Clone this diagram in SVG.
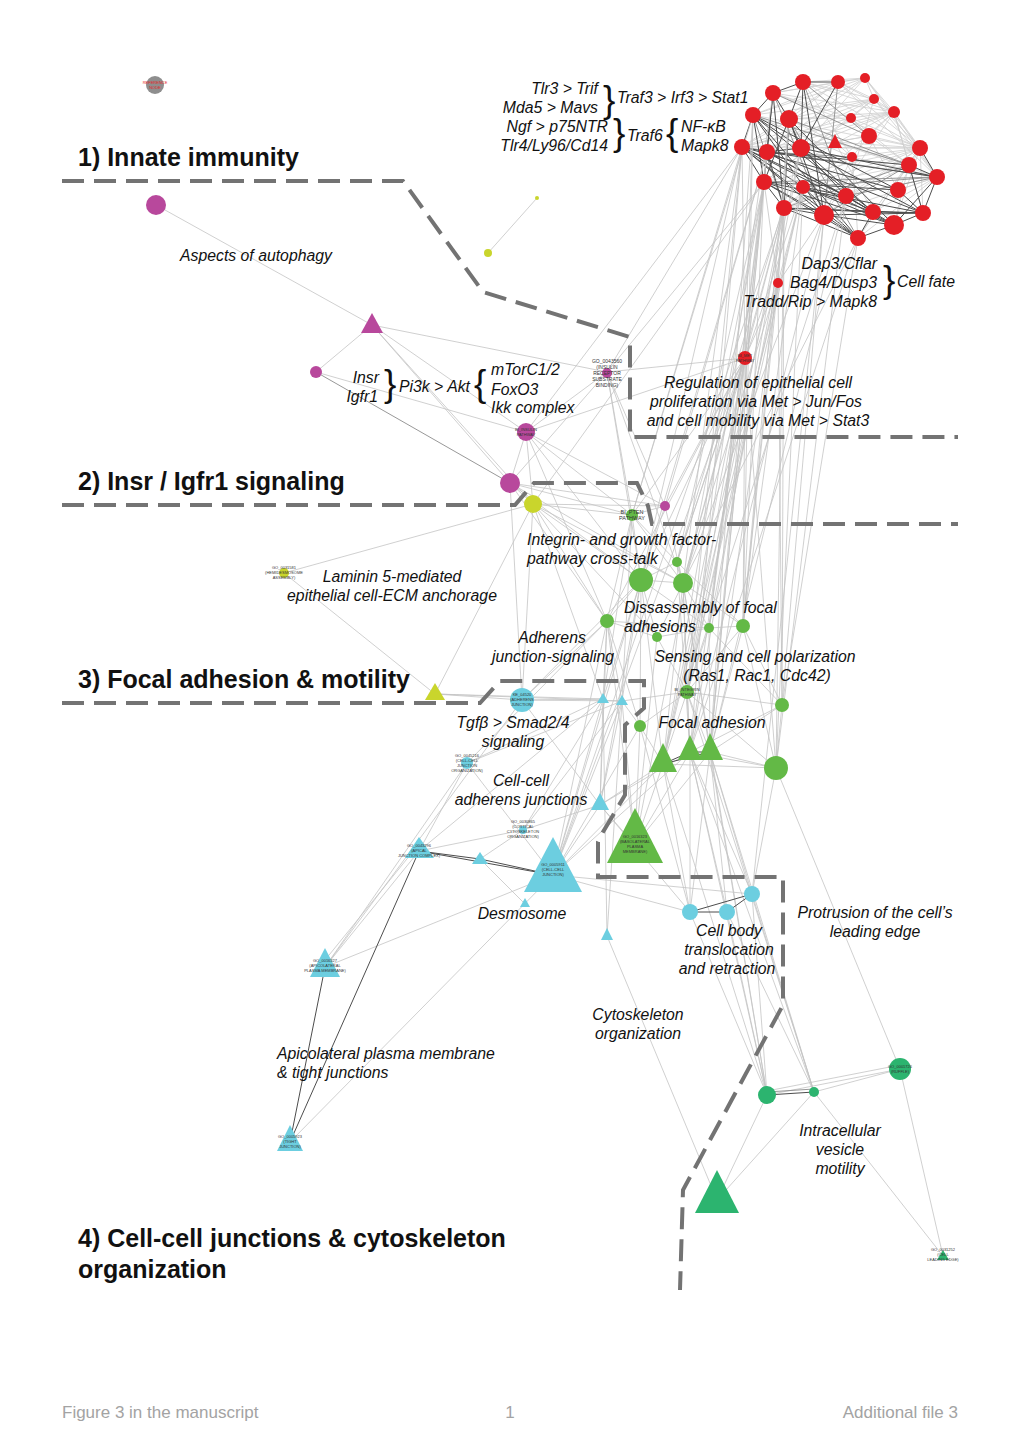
<svg xmlns="http://www.w3.org/2000/svg" width="1020" height="1442" viewBox="0 0 1020 1442">
<style>
.e{stroke:#c4c4c4;stroke-width:.8}
.f{stroke:#cfcfcf;stroke-width:.8}
.d{stroke:#4d4d4d;stroke-width:1}
.m{stroke:#8c8c8c;stroke-width:.9}
.bd{fill:none;stroke:#737373;stroke-width:4;stroke-dasharray:22 10}
.red{fill:#e41f26}
.pur{fill:#b8489c}
.yel{fill:#c9d52c}
.grn{fill:#63b946}
.cya{fill:#6ccee0}
.tea{fill:#2cb46f}
.ref{fill:#8e8e8e}
.lab{font-family:"Liberation Sans",Arial,sans-serif;font-style:italic;font-size:15.8px;fill:#111}
.ttl{font-family:"Liberation Sans",Arial,sans-serif;font-weight:bold;font-size:25px;fill:#111}
.tiny{font-family:"Liberation Sans",Arial,sans-serif;font-size:4px;fill:#333;text-anchor:middle}
.foot{font-family:"Liberation Sans",Arial,sans-serif;font-size:17px;fill:#a3a3a3}
.br{font-family:"Liberation Sans",Arial,sans-serif;font-size:37px;fill:#111}
</style>
<rect width="1020" height="1442" fill="#fff"/>
<g id="connectors">
<g class="f">
<line x1="838" y1="82" x2="865" y2="78"/><line x1="865" y1="78" x2="894" y2="112"/><line x1="838" y1="82" x2="894" y2="112"/><line x1="874" y1="99" x2="894" y2="112"/><line x1="851" y1="118" x2="894" y2="112"/><line x1="773" y1="93" x2="838" y2="82"/><line x1="789" y1="119" x2="838" y2="82"/><line x1="789" y1="119" x2="851" y2="118"/><line x1="869" y1="136" x2="920" y2="148"/><line x1="869" y1="136" x2="894" y2="112"/><line x1="835" y1="142" x2="920" y2="148"/><line x1="852" y1="157" x2="920" y2="148"/><line x1="851" y1="118" x2="920" y2="148"/><line x1="838" y1="82" x2="920" y2="148"/><line x1="865" y1="78" x2="920" y2="148"/><line x1="874" y1="99" x2="920" y2="148"/><line x1="894" y1="112" x2="920" y2="148"/><line x1="803" y1="82" x2="894" y2="112"/><line x1="869" y1="136" x2="909" y2="165"/><line x1="835" y1="142" x2="937" y2="177"/><line x1="742" y1="147" x2="894" y2="112"/><line x1="764" y1="182" x2="920" y2="148"/><line x1="784" y1="208" x2="920" y2="148"/><line x1="767" y1="152" x2="874" y2="99"/><line x1="753" y1="115" x2="865" y2="78"/><line x1="742" y1="147" x2="865" y2="78"/><line x1="773" y1="93" x2="894" y2="112"/><line x1="764" y1="182" x2="894" y2="112"/><line x1="784" y1="208" x2="937" y2="177"/><line x1="824" y1="215" x2="920" y2="148"/><line x1="803" y1="82" x2="865" y2="78"/><line x1="773" y1="93" x2="865" y2="78"/><line x1="753" y1="115" x2="874" y2="99"/><line x1="789" y1="119" x2="874" y2="99"/><line x1="801" y1="148" x2="894" y2="112"/><line x1="801" y1="148" x2="920" y2="148"/><line x1="803" y1="187" x2="920" y2="148"/><line x1="846" y1="196" x2="920" y2="148"/><line x1="824" y1="215" x2="937" y2="177"/><line x1="858" y1="238" x2="937" y2="177"/><line x1="858" y1="238" x2="920" y2="148"/><line x1="873" y1="212" x2="920" y2="148"/><line x1="894" y1="225" x2="920" y2="148"/><line x1="869" y1="136" x2="851" y2="118"/><line x1="835" y1="142" x2="869" y2="136"/><line x1="852" y1="157" x2="835" y2="142"/><line x1="852" y1="157" x2="869" y2="136"/><line x1="851" y1="118" x2="874" y2="99"/><line x1="865" y1="78" x2="874" y2="99"/><line x1="838" y1="82" x2="874" y2="99"/><line x1="789" y1="119" x2="894" y2="112"/><line x1="767" y1="152" x2="894" y2="112"/><line x1="801" y1="148" x2="869" y2="136"/><line x1="801" y1="148" x2="835" y2="142"/><line x1="789" y1="119" x2="835" y2="142"/><line x1="803" y1="187" x2="909" y2="165"/><line x1="846" y1="196" x2="909" y2="165"/><line x1="742" y1="147" x2="874" y2="99"/><line x1="764" y1="182" x2="874" y2="99"/><line x1="784" y1="208" x2="894" y2="112"/><line x1="803" y1="82" x2="920" y2="148"/><line x1="773" y1="93" x2="920" y2="148"/><line x1="753" y1="115" x2="920" y2="148"/><line x1="742" y1="147" x2="920" y2="148"/><line x1="851" y1="118" x2="909" y2="165"/><line x1="852" y1="157" x2="937" y2="177"/><line x1="835" y1="142" x2="909" y2="165"/><line x1="874" y1="99" x2="937" y2="177"/><line x1="865" y1="78" x2="937" y2="177"/><line x1="894" y1="112" x2="937" y2="177"/><line x1="838" y1="82" x2="937" y2="177"/><line x1="894" y1="112" x2="909" y2="165"/><line x1="742" y1="147" x2="851" y2="118"/><line x1="764" y1="182" x2="851" y2="118"/><line x1="767" y1="152" x2="835" y2="142"/><line x1="742" y1="147" x2="835" y2="142"/><line x1="753" y1="115" x2="852" y2="157"/><line x1="803" y1="82" x2="852" y2="157"/><line x1="824" y1="215" x2="852" y2="157"/><line x1="858" y1="238" x2="852" y2="157"/><line x1="784" y1="208" x2="852" y2="157"/><line x1="873" y1="212" x2="835" y2="142"/>
<line x1="803" y1="82" x2="874" y2="99"/><line x1="773" y1="93" x2="851" y2="118"/><line x1="753" y1="115" x2="838" y2="82"/><line x1="742" y1="147" x2="838" y2="82"/><line x1="767" y1="152" x2="865" y2="78"/><line x1="801" y1="148" x2="865" y2="78"/><line x1="824" y1="215" x2="894" y2="112"/><line x1="846" y1="196" x2="874" y2="99"/><line x1="858" y1="238" x2="909" y2="165"/><line x1="894" y1="225" x2="909" y2="165"/><line x1="873" y1="212" x2="937" y2="177"/><line x1="898" y1="190" x2="937" y2="177"/><line x1="898" y1="190" x2="920" y2="148"/><line x1="898" y1="190" x2="869" y2="136"/><line x1="923" y1="213" x2="920" y2="148"/><line x1="923" y1="213" x2="894" y2="112"/>
</g>
<g class="m">
<line x1="753" y1="115" x2="909" y2="165"/><line x1="742" y1="147" x2="937" y2="177"/><line x1="773" y1="93" x2="869" y2="136"/><line x1="789" y1="119" x2="909" y2="165"/><line x1="764" y1="182" x2="937" y2="177"/><line x1="784" y1="208" x2="909" y2="165"/><line x1="803" y1="82" x2="869" y2="136"/><line x1="767" y1="152" x2="852" y2="157"/><line x1="803" y1="187" x2="937" y2="177"/><line x1="824" y1="215" x2="909" y2="165"/><line x1="846" y1="196" x2="937" y2="177"/><line x1="773" y1="93" x2="824" y2="215"/><line x1="753" y1="115" x2="784" y2="208"/><line x1="803" y1="82" x2="846" y2="196"/><line x1="838" y1="82" x2="824" y2="215"/><line x1="789" y1="119" x2="858" y2="238"/>
</g>
<g class="d">
<line x1="742" y1="147" x2="764" y2="182"/><line x1="764" y1="182" x2="784" y2="208"/><line x1="784" y1="208" x2="858" y2="238"/><line x1="858" y1="238" x2="894" y2="225"/><line x1="894" y1="225" x2="923" y2="213"/><line x1="923" y1="213" x2="937" y2="177"/><line x1="753" y1="115" x2="742" y2="147"/><line x1="773" y1="93" x2="753" y2="115"/><line x1="773" y1="93" x2="803" y2="82"/><line x1="742" y1="147" x2="767" y2="152"/><line x1="767" y1="152" x2="801" y2="148"/><line x1="742" y1="147" x2="824" y2="215"/><line x1="753" y1="115" x2="824" y2="215"/><line x1="764" y1="182" x2="824" y2="215"/><line x1="784" y1="208" x2="873" y2="212"/><line x1="764" y1="182" x2="894" y2="225"/><line x1="767" y1="152" x2="923" y2="213"/><line x1="801" y1="148" x2="873" y2="212"/><line x1="773" y1="93" x2="784" y2="208"/><line x1="753" y1="115" x2="858" y2="238"/><line x1="742" y1="147" x2="894" y2="225"/><line x1="789" y1="119" x2="824" y2="215"/><line x1="801" y1="148" x2="937" y2="177"/><line x1="767" y1="152" x2="909" y2="165"/><line x1="764" y1="182" x2="858" y2="238"/><line x1="784" y1="208" x2="923" y2="213"/><line x1="773" y1="93" x2="764" y2="182"/><line x1="789" y1="119" x2="764" y2="182"/><line x1="753" y1="115" x2="801" y2="148"/><line x1="742" y1="147" x2="846" y2="196"/><line x1="767" y1="152" x2="846" y2="196"/><line x1="824" y1="215" x2="894" y2="225"/><line x1="824" y1="215" x2="923" y2="213"/><line x1="846" y1="196" x2="894" y2="225"/><line x1="873" y1="212" x2="923" y2="213"/><line x1="803" y1="187" x2="873" y2="212"/><line x1="803" y1="187" x2="858" y2="238"/><line x1="801" y1="148" x2="846" y2="196"/><line x1="767" y1="152" x2="873" y2="212"/><line x1="789" y1="119" x2="784" y2="208"/><line x1="773" y1="93" x2="767" y2="152"/><line x1="742" y1="147" x2="898" y2="190"/><line x1="753" y1="115" x2="898" y2="190"/><line x1="803" y1="82" x2="789" y2="119"/><line x1="803" y1="82" x2="801" y2="148"/><line x1="773" y1="93" x2="789" y2="119"/><line x1="742" y1="147" x2="803" y2="187"/><line x1="784" y1="208" x2="824" y2="215"/><line x1="824" y1="215" x2="858" y2="238"/><line x1="873" y1="212" x2="858" y2="238"/><line x1="846" y1="196" x2="873" y2="212"/><line x1="898" y1="190" x2="923" y2="213"/><line x1="909" y1="165" x2="923" y2="213"/><line x1="937" y1="177" x2="894" y2="225"/><line x1="909" y1="165" x2="937" y2="177"/><line x1="920" y1="148" x2="937" y2="177"/><line x1="789" y1="119" x2="801" y2="148"/><line x1="767" y1="152" x2="784" y2="208"/><line x1="753" y1="115" x2="764" y2="182"/><line x1="803" y1="82" x2="824" y2="215"/><line x1="789" y1="119" x2="894" y2="225"/><line x1="764" y1="182" x2="923" y2="213"/><line x1="742" y1="147" x2="858" y2="238"/><line x1="753" y1="115" x2="873" y2="212"/><line x1="801" y1="148" x2="923" y2="213"/><line x1="803" y1="187" x2="894" y2="225"/><line x1="767" y1="152" x2="937" y2="177"/><line x1="764" y1="182" x2="898" y2="190"/><line x1="803" y1="187" x2="846" y2="196"/><line x1="803" y1="82" x2="838" y2="82"/><line x1="838" y1="82" x2="801" y2="148"/>
</g>
<g class="e">
<line x1="742" y1="147" x2="745" y2="358"/><line x1="742" y1="147" x2="683" y2="583"/><line x1="742" y1="147" x2="687" y2="692"/><line x1="742" y1="147" x2="690" y2="752"/><line x1="742" y1="147" x2="632" y2="515"/><line x1="742" y1="147" x2="526" y2="432"/><line x1="742" y1="147" x2="607" y2="372"/><line x1="742" y1="147" x2="641" y2="580"/><line x1="764" y1="182" x2="778" y2="283"/><line x1="764" y1="182" x2="745" y2="358"/><line x1="764" y1="182" x2="677" y2="562"/><line x1="764" y1="182" x2="709" y2="628"/><line x1="764" y1="182" x2="710" y2="752"/><line x1="764" y1="182" x2="663" y2="764"/><line x1="764" y1="182" x2="743" y2="626"/><line x1="764" y1="182" x2="607" y2="372"/><line x1="764" y1="182" x2="635" y2="845"/><line x1="764" y1="182" x2="533" y2="504"/><line x1="784" y1="208" x2="778" y2="283"/><line x1="784" y1="208" x2="745" y2="358"/><line x1="784" y1="208" x2="683" y2="583"/><line x1="784" y1="208" x2="687" y2="692"/><line x1="784" y1="208" x2="743" y2="626"/><line x1="784" y1="208" x2="782" y2="705"/><line x1="784" y1="208" x2="690" y2="752"/><line x1="784" y1="208" x2="776" y2="768"/><line x1="784" y1="208" x2="553" y2="875"/><line x1="767" y1="152" x2="745" y2="358"/><line x1="767" y1="152" x2="709" y2="628"/><line x1="767" y1="152" x2="710" y2="752"/><line x1="767" y1="152" x2="641" y2="580"/><line x1="767" y1="152" x2="665" y2="506"/><line x1="803" y1="187" x2="778" y2="283"/><line x1="803" y1="187" x2="677" y2="562"/><line x1="803" y1="187" x2="663" y2="764"/><line x1="803" y1="187" x2="743" y2="626"/><line x1="803" y1="187" x2="687" y2="692"/><line x1="803" y1="187" x2="776" y2="768"/><line x1="824" y1="215" x2="778" y2="283"/><line x1="824" y1="215" x2="683" y2="583"/><line x1="824" y1="215" x2="782" y2="705"/><line x1="824" y1="215" x2="690" y2="752"/><line x1="824" y1="215" x2="752" y2="894"/><line x1="753" y1="115" x2="745" y2="358"/><line x1="753" y1="115" x2="632" y2="515"/><line x1="753" y1="115" x2="710" y2="752"/><line x1="753" y1="115" x2="743" y2="626"/><line x1="801" y1="148" x2="677" y2="562"/><line x1="801" y1="148" x2="709" y2="628"/><line x1="801" y1="148" x2="663" y2="764"/><line x1="846" y1="196" x2="687" y2="692"/><line x1="846" y1="196" x2="776" y2="768"/><line x1="846" y1="196" x2="710" y2="752"/><line x1="858" y1="238" x2="683" y2="583"/><line x1="858" y1="238" x2="690" y2="752"/><line x1="858" y1="238" x2="782" y2="705"/><line x1="789" y1="119" x2="778" y2="283"/><line x1="789" y1="119" x2="743" y2="626"/><line x1="773" y1="93" x2="687" y2="692"/>
<line x1="778" y1="283" x2="745" y2="358"/><line x1="778" y1="283" x2="683" y2="583"/><line x1="778" y1="283" x2="687" y2="692"/><line x1="778" y1="283" x2="710" y2="752"/><line x1="778" y1="283" x2="743" y2="626"/><line x1="778" y1="283" x2="782" y2="705"/>
<line x1="745" y1="358" x2="632" y2="515"/><line x1="745" y1="358" x2="677" y2="562"/><line x1="745" y1="358" x2="641" y2="580"/><line x1="745" y1="358" x2="683" y2="583"/><line x1="745" y1="358" x2="709" y2="628"/><line x1="745" y1="358" x2="743" y2="626"/><line x1="745" y1="358" x2="687" y2="692"/><line x1="745" y1="358" x2="663" y2="764"/><line x1="745" y1="358" x2="690" y2="752"/><line x1="745" y1="358" x2="710" y2="752"/><line x1="745" y1="358" x2="607" y2="372"/><line x1="745" y1="358" x2="526" y2="432"/><line x1="745" y1="358" x2="665" y2="506"/><line x1="745" y1="358" x2="553" y2="875"/><line x1="745" y1="358" x2="776" y2="768"/><line x1="745" y1="358" x2="607" y2="621"/>
<line x1="156" y1="205" x2="372" y2="325"/><line x1="372" y1="325" x2="607" y2="372"/><line x1="372" y1="325" x2="526" y2="432"/><line x1="372" y1="325" x2="510" y2="483"/><line x1="372" y1="325" x2="533" y2="504"/><line x1="372" y1="325" x2="316" y2="372"/><line x1="316" y1="372" x2="526" y2="432"/><line x1="488" y1="253" x2="537" y2="198"/>
<line x1="607" y1="372" x2="632" y2="515"/><line x1="607" y1="372" x2="641" y2="580"/><line x1="607" y1="372" x2="665" y2="506"/><line x1="607" y1="372" x2="526" y2="432"/><line x1="607" y1="372" x2="510" y2="483"/><line x1="607" y1="372" x2="683" y2="583"/><line x1="526" y1="432" x2="510" y2="483"/><line x1="526" y1="432" x2="533" y2="504"/><line x1="526" y1="432" x2="632" y2="515"/><line x1="526" y1="432" x2="641" y2="580"/><line x1="526" y1="432" x2="665" y2="506"/><line x1="526" y1="432" x2="607" y2="621"/><line x1="510" y1="483" x2="533" y2="504"/><line x1="510" y1="483" x2="632" y2="515"/><line x1="510" y1="483" x2="665" y2="506"/><line x1="510" y1="483" x2="641" y2="580"/><line x1="510" y1="483" x2="607" y2="621"/><line x1="510" y1="483" x2="522" y2="700"/><line x1="510" y1="483" x2="683" y2="583"/><line x1="533" y1="504" x2="632" y2="515"/><line x1="533" y1="504" x2="665" y2="506"/><line x1="533" y1="504" x2="641" y2="580"/><line x1="533" y1="504" x2="607" y2="621"/><line x1="533" y1="504" x2="284" y2="573"/><line x1="533" y1="504" x2="435" y2="694"/><line x1="533" y1="504" x2="522" y2="700"/><line x1="533" y1="504" x2="603" y2="699"/><line x1="533" y1="504" x2="683" y2="583"/><line x1="533" y1="504" x2="657" y2="637"/><line x1="284" y1="573" x2="435" y2="694"/><line x1="435" y1="694" x2="603" y2="699"/><line x1="435" y1="694" x2="622" y2="701"/><line x1="435" y1="694" x2="522" y2="700"/>
<line x1="632" y1="515" x2="677" y2="562"/><line x1="632" y1="515" x2="641" y2="580"/><line x1="632" y1="515" x2="683" y2="583"/><line x1="632" y1="515" x2="665" y2="506"/><line x1="632" y1="515" x2="607" y2="621"/><line x1="632" y1="515" x2="603" y2="699"/><line x1="632" y1="515" x2="622" y2="701"/><line x1="677" y1="562" x2="641" y2="580"/><line x1="677" y1="562" x2="683" y2="583"/><line x1="677" y1="562" x2="743" y2="626"/><line x1="677" y1="562" x2="690" y2="752"/><line x1="641" y1="580" x2="683" y2="583"/><line x1="641" y1="580" x2="607" y2="621"/><line x1="641" y1="580" x2="657" y2="637"/><line x1="641" y1="580" x2="709" y2="628"/><line x1="641" y1="580" x2="603" y2="699"/><line x1="641" y1="580" x2="622" y2="701"/><line x1="641" y1="580" x2="663" y2="764"/><line x1="641" y1="580" x2="640" y2="726"/><line x1="683" y1="583" x2="709" y2="628"/><line x1="683" y1="583" x2="743" y2="626"/><line x1="683" y1="583" x2="687" y2="692"/><line x1="683" y1="583" x2="690" y2="752"/><line x1="683" y1="583" x2="710" y2="752"/><line x1="683" y1="583" x2="663" y2="764"/><line x1="683" y1="583" x2="657" y2="637"/><line x1="607" y1="621" x2="657" y2="637"/><line x1="607" y1="621" x2="709" y2="628"/><line x1="607" y1="621" x2="603" y2="699"/><line x1="607" y1="621" x2="622" y2="701"/><line x1="607" y1="621" x2="635" y2="845"/><line x1="607" y1="621" x2="640" y2="726"/><line x1="657" y1="637" x2="709" y2="628"/><line x1="657" y1="637" x2="635" y2="845"/><line x1="657" y1="637" x2="687" y2="692"/><line x1="709" y1="628" x2="743" y2="626"/><line x1="709" y1="628" x2="687" y2="692"/><line x1="709" y1="628" x2="710" y2="752"/><line x1="709" y1="628" x2="782" y2="705"/><line x1="743" y1="626" x2="687" y2="692"/><line x1="743" y1="626" x2="782" y2="705"/><line x1="743" y1="626" x2="710" y2="752"/><line x1="743" y1="626" x2="776" y2="768"/><line x1="687" y1="692" x2="663" y2="764"/><line x1="687" y1="692" x2="690" y2="752"/><line x1="687" y1="692" x2="710" y2="752"/><line x1="687" y1="692" x2="782" y2="705"/><line x1="687" y1="692" x2="640" y2="726"/><line x1="687" y1="692" x2="776" y2="768"/><line x1="687" y1="692" x2="622" y2="701"/><line x1="782" y1="705" x2="710" y2="752"/><line x1="782" y1="705" x2="776" y2="768"/><line x1="782" y1="705" x2="690" y2="752"/><line x1="663" y1="764" x2="640" y2="726"/><line x1="663" y1="764" x2="635" y2="845"/><line x1="690" y1="752" x2="635" y2="845"/><line x1="710" y1="752" x2="635" y2="845"/><line x1="690" y1="752" x2="776" y2="768"/><line x1="710" y1="752" x2="776" y2="768"/><line x1="663" y1="764" x2="776" y2="768"/><line x1="640" y1="726" x2="622" y2="701"/><line x1="640" y1="726" x2="635" y2="845"/><line x1="635" y1="845" x2="600" y2="805"/><line x1="635" y1="845" x2="622" y2="701"/><line x1="665" y1="506" x2="683" y2="583"/><line x1="665" y1="506" x2="641" y2="580"/>
<line x1="522" y1="700" x2="603" y2="699"/><line x1="522" y1="700" x2="622" y2="701"/><line x1="522" y1="700" x2="641" y2="580"/><line x1="522" y1="700" x2="607" y2="621"/><line x1="467" y1="763" x2="603" y2="699"/><line x1="467" y1="763" x2="622" y2="701"/><line x1="467" y1="763" x2="607" y2="621"/><line x1="467" y1="763" x2="553" y2="875"/><line x1="467" y1="763" x2="419" y2="851"/><line x1="419" y1="851" x2="325" y2="967"/><line x1="415" y1="849" x2="321" y2="965"/><line x1="290" y1="1142" x2="553" y2="875"/><line x1="325" y1="967" x2="553" y2="875"/><line x1="419" y1="851" x2="523" y2="830"/><line x1="419" y1="851" x2="603" y2="699"/><line x1="325" y1="967" x2="467" y2="763"/><line x1="325" y1="967" x2="522" y2="700"/><line x1="480" y1="859" x2="523" y2="830"/><line x1="480" y1="859" x2="525" y2="904"/><line x1="553" y1="875" x2="600" y2="805"/><line x1="553" y1="875" x2="603" y2="699"/><line x1="553" y1="875" x2="622" y2="701"/><line x1="553" y1="875" x2="607" y2="621"/><line x1="553" y1="875" x2="641" y2="580"/><line x1="553" y1="875" x2="663" y2="764"/><line x1="553" y1="875" x2="690" y2="752"/><line x1="553" y1="875" x2="690" y2="912"/><line x1="553" y1="875" x2="752" y2="894"/><line x1="553" y1="875" x2="640" y2="726"/><line x1="600" y1="805" x2="603" y2="699"/><line x1="600" y1="805" x2="622" y2="701"/><line x1="600" y1="805" x2="663" y2="764"/><line x1="600" y1="805" x2="690" y2="752"/><line x1="600" y1="805" x2="641" y2="580"/><line x1="600" y1="805" x2="607" y2="621"/><line x1="600" y1="805" x2="522" y2="700"/><line x1="600" y1="805" x2="523" y2="830"/><line x1="607" y1="936" x2="603" y2="699"/><line x1="607" y1="936" x2="622" y2="701"/><line x1="607" y1="936" x2="717" y2="1200"/><line x1="690" y1="912" x2="663" y2="764"/><line x1="690" y1="912" x2="690" y2="752"/><line x1="690" y1="912" x2="710" y2="752"/><line x1="690" y1="912" x2="640" y2="726"/><line x1="727" y1="912" x2="690" y2="752"/><line x1="727" y1="912" x2="710" y2="752"/><line x1="752" y1="894" x2="710" y2="752"/><line x1="752" y1="894" x2="776" y2="768"/><line x1="752" y1="894" x2="690" y2="752"/><line x1="690" y1="912" x2="600" y2="805"/><line x1="690" y1="912" x2="767" y2="1095"/><line x1="727" y1="912" x2="767" y2="1095"/><line x1="752" y1="894" x2="814" y2="1092"/><line x1="727" y1="912" x2="814" y2="1092"/><line x1="752" y1="894" x2="767" y2="1095"/><line x1="523" y1="830" x2="603" y2="699"/><line x1="523" y1="830" x2="622" y2="701"/>
<line x1="767" y1="1095" x2="900" y2="1069"/><line x1="767" y1="1091" x2="900" y2="1065"/><line x1="814" y1="1092" x2="900" y2="1069"/><line x1="900" y1="1069" x2="943" y2="1256"/><line x1="814" y1="1092" x2="943" y2="1256"/><line x1="900" y1="1069" x2="776" y2="768"/><line x1="717" y1="1200" x2="767" y2="1095"/><line x1="717" y1="1200" x2="814" y2="1092"/><line x1="767" y1="1095" x2="690" y2="752"/><line x1="767" y1="1095" x2="710" y2="752"/><line x1="767" y1="1095" x2="663" y2="764"/><line x1="814" y1="1092" x2="710" y2="752"/><line x1="814" y1="1092" x2="690" y2="752"/><line x1="814" y1="1092" x2="687" y2="692"/><line x1="767" y1="1095" x2="683" y2="583"/>
</g>
<g class="m">
<line x1="316" y1="372" x2="510" y2="483"/><line x1="767" y1="1092" x2="814" y2="1089"/>
</g>
<g class="d">
<line x1="663" y1="764" x2="690" y2="752"/><line x1="663" y1="764" x2="710" y2="752"/><line x1="690" y1="752" x2="710" y2="752"/><line x1="419" y1="851" x2="290" y2="1142"/><line x1="325" y1="967" x2="290" y2="1142"/><line x1="419" y1="851" x2="553" y2="875"/><line x1="419" y1="851" x2="480" y2="859"/><line x1="480" y1="859" x2="553" y2="875"/><line x1="690" y1="912" x2="727" y2="912"/><line x1="690" y1="912" x2="752" y2="894"/><line x1="727" y1="912" x2="752" y2="894"/><line x1="767" y1="1095" x2="814" y2="1092"/>
</g>
</g>
<g id="regions">
<path class="bd" d="M62,181 L403,181 L483,292 L630,337 L630,437 L958,437"/>
<path class="bd" d="M62,505 L515,505 L534,483 L637,483 L648,506 L652,524 L958,524"/>
<path class="bd" d="M62,703 L480,703 L500,681 L644,681 L644,708 L625,725 L625,795 L603,832 L598,842 L598,877 L783,877 L783,1005 L683,1190 L680,1290"/>
</g>
<g id="nodes">
<g id="n_reference"><circle class="ref" cx="155" cy="85" r="9"/><text class="tiny" x="155" y="84" style="fill:#e41f26">REFERENCE</text><text class="tiny" x="155" y="89" style="fill:#e41f26">NODE</text></g>
<g id="red_cluster" class="red">
<circle cx="803" cy="82" r="8"/><circle cx="838" cy="82" r="7"/><circle cx="865" cy="78" r="5"/><circle cx="874" cy="99" r="5"/><circle cx="773" cy="93" r="8"/><circle cx="753" cy="115" r="8"/><circle cx="789" cy="119" r="9"/><circle cx="894" cy="112" r="6"/><circle cx="851" cy="118" r="5"/><circle cx="869" cy="136" r="8"/><polygon points="835,134 842,148 828,148"/><circle cx="742" cy="147" r="8"/><circle cx="767" cy="152" r="8"/><circle cx="801" cy="148" r="9"/><circle cx="852" cy="157" r="5"/><circle cx="920" cy="148" r="8"/><circle cx="909" cy="165" r="8"/><circle cx="937" cy="177" r="8"/><circle cx="764" cy="182" r="8"/><circle cx="803" cy="187" r="7"/><circle cx="846" cy="196" r="8"/><circle cx="898" cy="190" r="8"/><circle cx="784" cy="208" r="8"/><circle cx="824" cy="215" r="10"/><circle cx="873" cy="212" r="8"/><circle cx="923" cy="213" r="8"/><circle cx="894" cy="225" r="10"/><circle cx="858" cy="238" r="8"/>
</g>
<g id="n_bag4"><circle class="red" cx="778" cy="283" r="5"/></g>
<g id="n_met"><circle class="red" cx="745" cy="358" r="7"/><text class="tiny" x="745" y="357">BI_MET</text><text class="tiny" x="745" y="362">PATHWAY</text></g>
<g id="n_p1"><circle class="pur" cx="156" cy="205" r="10"/></g>
<g id="n_p2"><polygon class="pur" points="372,313 383,333 361,333"/></g>
<g id="n_p3"><circle class="pur" cx="316" cy="372" r="6"/></g>
<g id="n_irs"><circle class="pur" cx="607" cy="373" r="5"/><text class="tiny" x="607" y="363" style="font-size:5px">GO_0043560</text><text class="tiny" x="607" y="369" style="font-size:5px">(INSULIN</text><text class="tiny" x="607" y="375" style="font-size:5px">RECEPTOR</text><text class="tiny" x="607" y="381" style="font-size:5px">SUBSTRATE</text><text class="tiny" x="607" y="387" style="font-size:5px">BINDING)</text></g>
<g id="n_insulin"><circle class="pur" cx="526" cy="432" r="9"/><text class="tiny" x="526" y="431">BI_INSULIN</text><text class="tiny" x="526" y="436">PATHWAY</text></g>
<g id="n_p6"><circle class="pur" cx="510" cy="483" r="10"/></g>
<g id="n_p7"><circle class="pur" cx="665" cy="506" r="5"/></g>
<g id="n_y1"><circle class="yel" cx="537" cy="198" r="2"/></g>
<g id="n_y2"><circle class="yel" cx="488" cy="253" r="4"/></g>
<g id="n_y3"><circle class="yel" cx="533" cy="504" r="9"/></g>
<g id="n_hemi"><circle class="yel" cx="284" cy="573" r="5"/><text class="tiny" x="284" y="569">GO_0031581</text><text class="tiny" x="284" y="574">(HEMIDESMOSOME</text><text class="tiny" x="284" y="579">ASSEMBLY)</text></g>
<g id="n_y5"><polygon class="yel" points="435,683 445,700 425,700"/></g>
<g id="n_pten"><circle class="grn" cx="632" cy="515" r="6"/><text class="tiny" x="632" y="514" style="font-size:5.5px">BI_PTEN</text><text class="tiny" x="632" y="520" style="font-size:5.5px">PATHWAY</text></g>
<g id="n_g2"><circle class="grn" cx="677" cy="562" r="5"/></g>
<g id="n_g3"><circle class="grn" cx="641" cy="580" r="12"/></g>
<g id="n_g4"><circle class="grn" cx="683" cy="583" r="10"/></g>
<g id="n_g5"><circle class="grn" cx="607" cy="621" r="7"/></g>
<g id="n_g6"><circle class="grn" cx="657" cy="637" r="5"/></g>
<g id="n_g7"><circle class="grn" cx="709" cy="628" r="5"/></g>
<g id="n_g8"><circle class="grn" cx="743" cy="626" r="7"/></g>
<g id="n_integrin"><circle class="grn" cx="687" cy="692" r="7"/><text class="tiny" x="687" y="691">BI_INTEGRIN</text><text class="tiny" x="687" y="696">PATHWAY</text></g>
<g id="n_g10"><circle class="grn" cx="782" cy="705" r="7"/></g>
<g id="n_g11"><circle class="grn" cx="640" cy="726" r="6"/></g>
<g id="n_gt1"><polygon class="grn" points="663,743 677,772 649,772"/></g>
<g id="n_gt2"><polygon class="grn" points="690,735 702,760 678,760"/></g>
<g id="n_gt3"><polygon class="grn" points="710,733 723,760 698,760"/></g>
<g id="n_g12"><circle class="grn" cx="776" cy="768" r="12"/></g>
<g id="n_basolateral"><polygon class="grn" points="635,808 663,863 607,863"/><text class="tiny" x="635" y="838">GO_0016323</text><text class="tiny" x="635" y="843">(BASOLATERAL</text><text class="tiny" x="635" y="848">PLASMA</text><text class="tiny" x="635" y="853">MEMBRANE)</text></g>
<g id="n_adherens"><circle class="cya" cx="522" cy="700" r="12"/><text class="tiny" x="522" y="696">KE_04520</text><text class="tiny" x="522" y="701">(ADHERENS</text><text class="tiny" x="522" y="706">JUNCTION)</text></g>
<g id="n_ct1"><polygon class="cya" points="603,693 609,703 597,703"/></g>
<g id="n_ct2"><polygon class="cya" points="622,695 628,705 616,705"/></g>
<g id="n_cjorg"><circle class="cya" cx="467" cy="763" r="6"/><text class="tiny" x="467" y="757">GO_0045216</text><text class="tiny" x="467" y="762">(CELL-CELL</text><text class="tiny" x="467" y="767">JUNCTION</text><text class="tiny" x="467" y="772">ORGANIZATION)</text></g>
<g id="n_apical"><polygon class="cya" points="419,837 434,858 405,858"/><text class="tiny" x="419" y="847">GO_0043296</text><text class="tiny" x="419" y="852">(APICAL</text><text class="tiny" x="419" y="857">JUNCTION COMPLEX)</text></g>
<g id="n_ct4"><polygon class="cya" points="480,852 488,864 472,864"/></g>
<g id="n_cortical"><circle class="cya" cx="523" cy="830" r="4"/><text class="tiny" x="523" y="823">GO_0030865</text><text class="tiny" x="523" y="828">(CORTICAL</text><text class="tiny" x="523" y="833">CYTOSKELETON</text><text class="tiny" x="523" y="838">ORGANIZATION)</text></g>
<g id="n_ct5"><polygon class="cya" points="600,793 609,810 591,810"/></g>
<g id="n_cellcell"><polygon class="cya" points="553,837 582,892 524,892"/><text class="tiny" x="553" y="866">GO_0005911</text><text class="tiny" x="553" y="871">(CELL-CELL</text><text class="tiny" x="553" y="876">JUNCTION)</text></g>
<g id="n_ct10"><polygon class="cya" points="525,898 530,907 520,907"/></g>
<g id="n_apicolateral"><polygon class="cya" points="325,948 340,977 310,977"/><text class="tiny" x="325" y="962">GO_0016327</text><text class="tiny" x="325" y="967">(APICOLATERAL</text><text class="tiny" x="325" y="972">PLASMA MEMBRANE)</text></g>
<g id="n_tight"><polygon class="cya" points="290,1125 303,1151 277,1151"/><text class="tiny" x="290" y="1138">GO_0005923</text><text class="tiny" x="290" y="1143">(TIGHT</text><text class="tiny" x="290" y="1148">JUNCTION)</text></g>
<g id="n_ct9"><polygon class="cya" points="607,928 613,940 601,940"/></g>
<g id="n_c4"><circle class="cya" cx="690" cy="912" r="8"/></g>
<g id="n_c5"><circle class="cya" cx="727" cy="912" r="8"/></g>
<g id="n_c6"><circle class="cya" cx="752" cy="894" r="8"/></g>
<g id="n_ruffle"><circle class="tea" cx="900" cy="1069" r="11"/><text class="tiny" x="900" y="1068">GO_0001726</text><text class="tiny" x="900" y="1073">(RUFFLE)</text></g>
<g id="n_t2"><circle class="tea" cx="767" cy="1095" r="9"/></g>
<g id="n_t3"><circle class="tea" cx="814" cy="1092" r="5"/></g>
<g id="n_tt1"><polygon class="tea" points="717,1170 739,1213 695,1213"/></g>
<g id="n_leading"><polygon class="tea" points="943,1250 949,1260 937,1260"/><text class="tiny" x="943" y="1251">GO_0031252</text><text class="tiny" x="943" y="1256">(CELL</text><text class="tiny" x="943" y="1261">LEADING EDGE)</text></g>
</g>
<g id="labels">
<text class="ttl" x="78" y="166">1) Innate immunity</text>
<text class="ttl" x="78" y="490">2) Insr / Igfr1 signaling</text>
<text class="ttl" x="78" y="688">3) Focal adhesion &amp; motility</text>
<text class="ttl" x="78" y="1247">4) Cell-cell junctions &amp; cytoskeleton</text>
<text class="ttl" x="78" y="1278">organization</text>
<text class="lab" x="598" y="94" text-anchor="end">Tlr3 &gt; Trif</text>
<text class="lab" x="598" y="113" text-anchor="end">Mda5 &gt; Mavs</text>
<text class="br" x="603" y="112">}</text>
<text class="lab" x="617" y="103">Traf3 &gt; Irf3 &gt; Stat1</text>
<text class="lab" x="608" y="132" text-anchor="end">Ngf &gt; p75NTR</text>
<text class="lab" x="608" y="151" text-anchor="end">Tlr4/Ly96/Cd14</text>
<text class="br" x="613" y="145">}</text>
<text class="lab" x="627" y="141">Traf6</text>
<text class="br" x="666" y="145">{</text>
<text class="lab" x="681" y="132">NF-κB</text>
<text class="lab" x="681" y="151">Mapk8</text>
<text class="lab" x="180" y="261">Aspects of autophagy</text>
<text class="lab" x="379" y="383" text-anchor="end">Insr</text>
<text class="lab" x="378" y="402" text-anchor="end">Igfr1</text>
<text class="br" x="384" y="396">}</text>
<text class="lab" x="399" y="392">Pi3k &gt; Akt</text>
<text class="br" x="474" y="396">{</text>
<text class="lab" x="491" y="375">mTorC1/2</text>
<text class="lab" x="491" y="395">FoxO3</text>
<text class="lab" x="491" y="413">Ikk complex</text>
<text class="lab" x="877" y="269" text-anchor="end">Dap3/Cflar</text>
<text class="lab" x="877" y="288" text-anchor="end">Bag4/Dusp3</text>
<text class="lab" x="877" y="307" text-anchor="end">Tradd/Rip &gt; Mapk8</text>
<text class="br" x="883" y="292">}</text>
<text class="lab" x="897" y="287">Cell fate</text>
<g text-anchor="middle">
<text class="lab" x="758" y="388">Regulation of epithelial cell</text>
<text class="lab" x="756" y="407">proliferation via Met &gt; Jun/Fos</text>
<text class="lab" x="758" y="426">and cell mobility via Met &gt; Stat3</text>
<text class="lab" x="392" y="582">Laminin 5-mediated</text>
<text class="lab" x="392" y="601">epithelial cell-ECM anchorage</text>
<text class="lab" x="552" y="643">Adherens</text>
<text class="lab" x="553" y="662">junction-signaling</text>
<text class="lab" x="755" y="662">Sensing and cell polarization</text>
<text class="lab" x="757" y="681">(Ras1, Rac1, Cdc42)</text>
<text class="lab" x="513" y="728">Tgfβ &gt; Smad2/4</text>
<text class="lab" x="513" y="747">signaling</text>
<text class="lab" x="712" y="728">Focal adhesion</text>
<text class="lab" x="521" y="786">Cell-cell</text>
<text class="lab" x="521" y="805">adherens junctions</text>
<text class="lab" x="522" y="919">Desmosome</text>
<text class="lab" x="729" y="936">Cell body</text>
<text class="lab" x="729" y="955">translocation</text>
<text class="lab" x="727" y="974">and retraction</text>
<text class="lab" x="875" y="918">Protrusion of the cell’s</text>
<text class="lab" x="875" y="937">leading edge</text>
<text class="lab" x="638" y="1020">Cytoskeleton</text>
<text class="lab" x="638" y="1039">organization</text>
<text class="lab" x="840" y="1136">Intracellular</text>
<text class="lab" x="840" y="1155">vesicle</text>
<text class="lab" x="840" y="1174">motility</text>
</g>
<text class="lab" x="527" y="545">Integrin- and growth factor-</text>
<text class="lab" x="527" y="564">pathway cross-talk</text>
<text class="lab" x="624" y="613">Dissassembly of focal</text>
<text class="lab" x="624" y="632">adhesions</text>
<text class="lab" x="277" y="1059">Apicolateral plasma membrane</text>
<text class="lab" x="277" y="1078">&amp; tight junctions</text>
</g>
<g id="footer">
<text class="foot" x="62" y="1418">Figure 3 in the manuscript</text>
<text class="foot" x="510" y="1418" text-anchor="middle">1</text>
<text class="foot" x="958" y="1418" text-anchor="end">Additional file 3</text>
</g>
</svg>
